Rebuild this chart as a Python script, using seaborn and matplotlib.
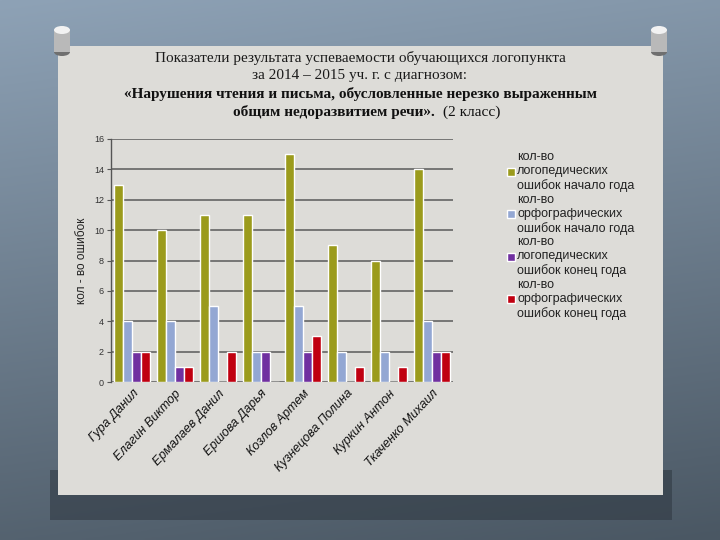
import numpy as np
import pandas as pd
import matplotlib
matplotlib.use("Agg")
import matplotlib.pyplot as plt
import seaborn as sns
from matplotlib.patches import Rectangle, Ellipse

students = ["Гура Данил", "Елагин Виктор", "Ермалаев Данил", "Ершова Дарья",
            "Козлов Артем", "Кузнецова Полина", "Куркин Антон", "Ткаченко Михаил"]
series_names = ["кол-во\nлогопедических\nошибок начало года",
                "кол-во\nорфографических\nошибок начало года",
                "кол-во\nлогопедических\nошибок конец года",
                "кол-во\nорфографических\nошибок конец года"]
logo_start = [13, 10, 11, 11, 15, 9, 8, 14]
orfo_start = [4, 4, 5, 2, 5, 2, 2, 4]
logo_end = [2, 1, 0, 2, 2, 0, 0, 2]
orfo_end = [2, 1, 2, 0, 3, 1, 1, 2]
yticks = [0, 2, 4, 6, 8, 10, 12, 14, 16]

colors = ["#9b9b1c", "#93a7d3", "#7030a0", "#c00010"]

rows = []
for name, vals in zip(series_names, [logo_start, orfo_start, logo_end, orfo_end]):
    for s, v in zip(students, vals):
        rows.append({"student": s, "series": name, "value": v})
df = pd.DataFrame(rows)

sns.set_theme(style="white")
plt.rcParams['font.family'] = ['Liberation Sans', 'DejaVu Sans']

fig = plt.figure(figsize=(7.2, 5.4), dpi=100)

# background gradient
bg = fig.add_axes([0, 0, 1, 1])
bg.set_axis_off()
yy = np.linspace(0, 1, 200)[:, None]
xx = np.linspace(0, 1, 200)[None, :]
top = np.array([0x8e, 0xa2, 0xb6]) / 255
bot = np.array([0x4a, 0x57, 0x63]) / 255
t = np.clip(yy * 0.85 + xx * 0.15, 0, 1)
img = top[None, None, :] * (1 - t[..., None]) + bot[None, None, :] * t[..., None]
bg.imshow(img, extent=[0, 720, 540, 0], aspect='auto')
bg.set_xlim(0, 720)
bg.set_ylim(540, 0)
# shadow
bg.add_patch(Rectangle((50, 470), 622, 50, color="#2e3740", alpha=0.55, lw=0))
# paper
bg.add_patch(Rectangle((58, 46), 605, 449, color="#dddcd8", lw=0))
# pins
for px in (62, 659):
    bg.add_patch(Rectangle((px - 7, 38), 14, 14, color="#9a9a9a", lw=0))
    bg.add_patch(Ellipse((px, 52), 16, 8, color="#6f6f6f", lw=0))
    bg.add_patch(Rectangle((px - 8, 30), 16, 22, color="#b9b9b9", lw=0))
    bg.add_patch(Ellipse((px, 30), 16, 8, color="#f2f2f2", lw=0))

# titles
serif = ['Liberation Serif', 'DejaVu Serif']
fs_t = 11
fig.text(0.5, 1 - 58 / 540, "Показатели результата успеваемости обучающихся логопункта",
         ha='center', va='center', fontsize=fs_t, family=serif, color="#1a1a1a")
fig.text(0.5, 1 - 76 / 540, "за 2014 – 2015 уч. г. с диагнозом:",
         ha='center', va='center', fontsize=fs_t, family=serif, color="#1a1a1a")
fig.text(0.5, 1 - 94 / 540, "«Нарушения чтения и письма, обусловленные нерезко выраженным",
         ha='center', va='center', fontsize=fs_t, family=serif, weight='bold', color="#111111")
fig.text(435 / 720, 1 - 112 / 540, "общим недоразвитием речи».", ha='right', va='center',
         fontsize=fs_t, family=serif, weight='bold', color="#111111")
fig.text(443 / 720, 1 - 112 / 540, "(2 класс)", ha='left', va='center',
         fontsize=fs_t, family=serif, color="#111111")

ax = fig.add_axes([111 / 720, 1 - 382 / 540, 342 / 720, 243 / 540])
ax.patch.set_alpha(0)
sns.barplot(data=df, x="student", y="value", hue="series", palette=colors,
            width=0.84, gap=0, saturation=1, ax=ax, errorbar=None)
ax.set_ylim(0, 16)
ax.set_xlim(-0.5, 7.5)
ax.set_yticks(yticks)
ax.set_yticklabels([str(v) for v in yticks], fontsize=6.5, color="#333333")
ax.yaxis.grid(True, color="#5a5a5a", lw=1.1)
ax.set_axisbelow(True)
for sp in ["top", "right", "bottom"]:
    ax.spines[sp].set_visible(False)
ax.spines["left"].set_color("#555555")
ax.spines["left"].set_linewidth(1.0)
ax.tick_params(axis='y', length=3, width=0.8, color="#555555", pad=2, left=True)
ax.tick_params(axis='x', length=0, pad=4)
ax.set_xticks(range(len(students)))
ax.set_xticklabels(students, rotation=47, ha='right', rotation_mode='anchor',
                   fontsize=9, style='italic', color="#111111")
ax.set_xlabel("")
ax.set_ylabel("кол - во ошибок", fontsize=8.5, color="#222222", labelpad=4)

h, l = ax.get_legend_handles_labels()
leg = ax.legend(h, l, loc='upper left', bbox_to_anchor=(502 / 720, 1 - 146 / 540),
                bbox_transform=fig.transFigure, frameon=False, fontsize=9,
                handlelength=0.6, handleheight=0.6, handletextpad=0.2,
                labelspacing=0.12, borderaxespad=0, labelcolor="#222222")
for txt in leg.get_texts():
    txt.set_linespacing(1.22)

fig.savefig("out.png", dpi=100)
